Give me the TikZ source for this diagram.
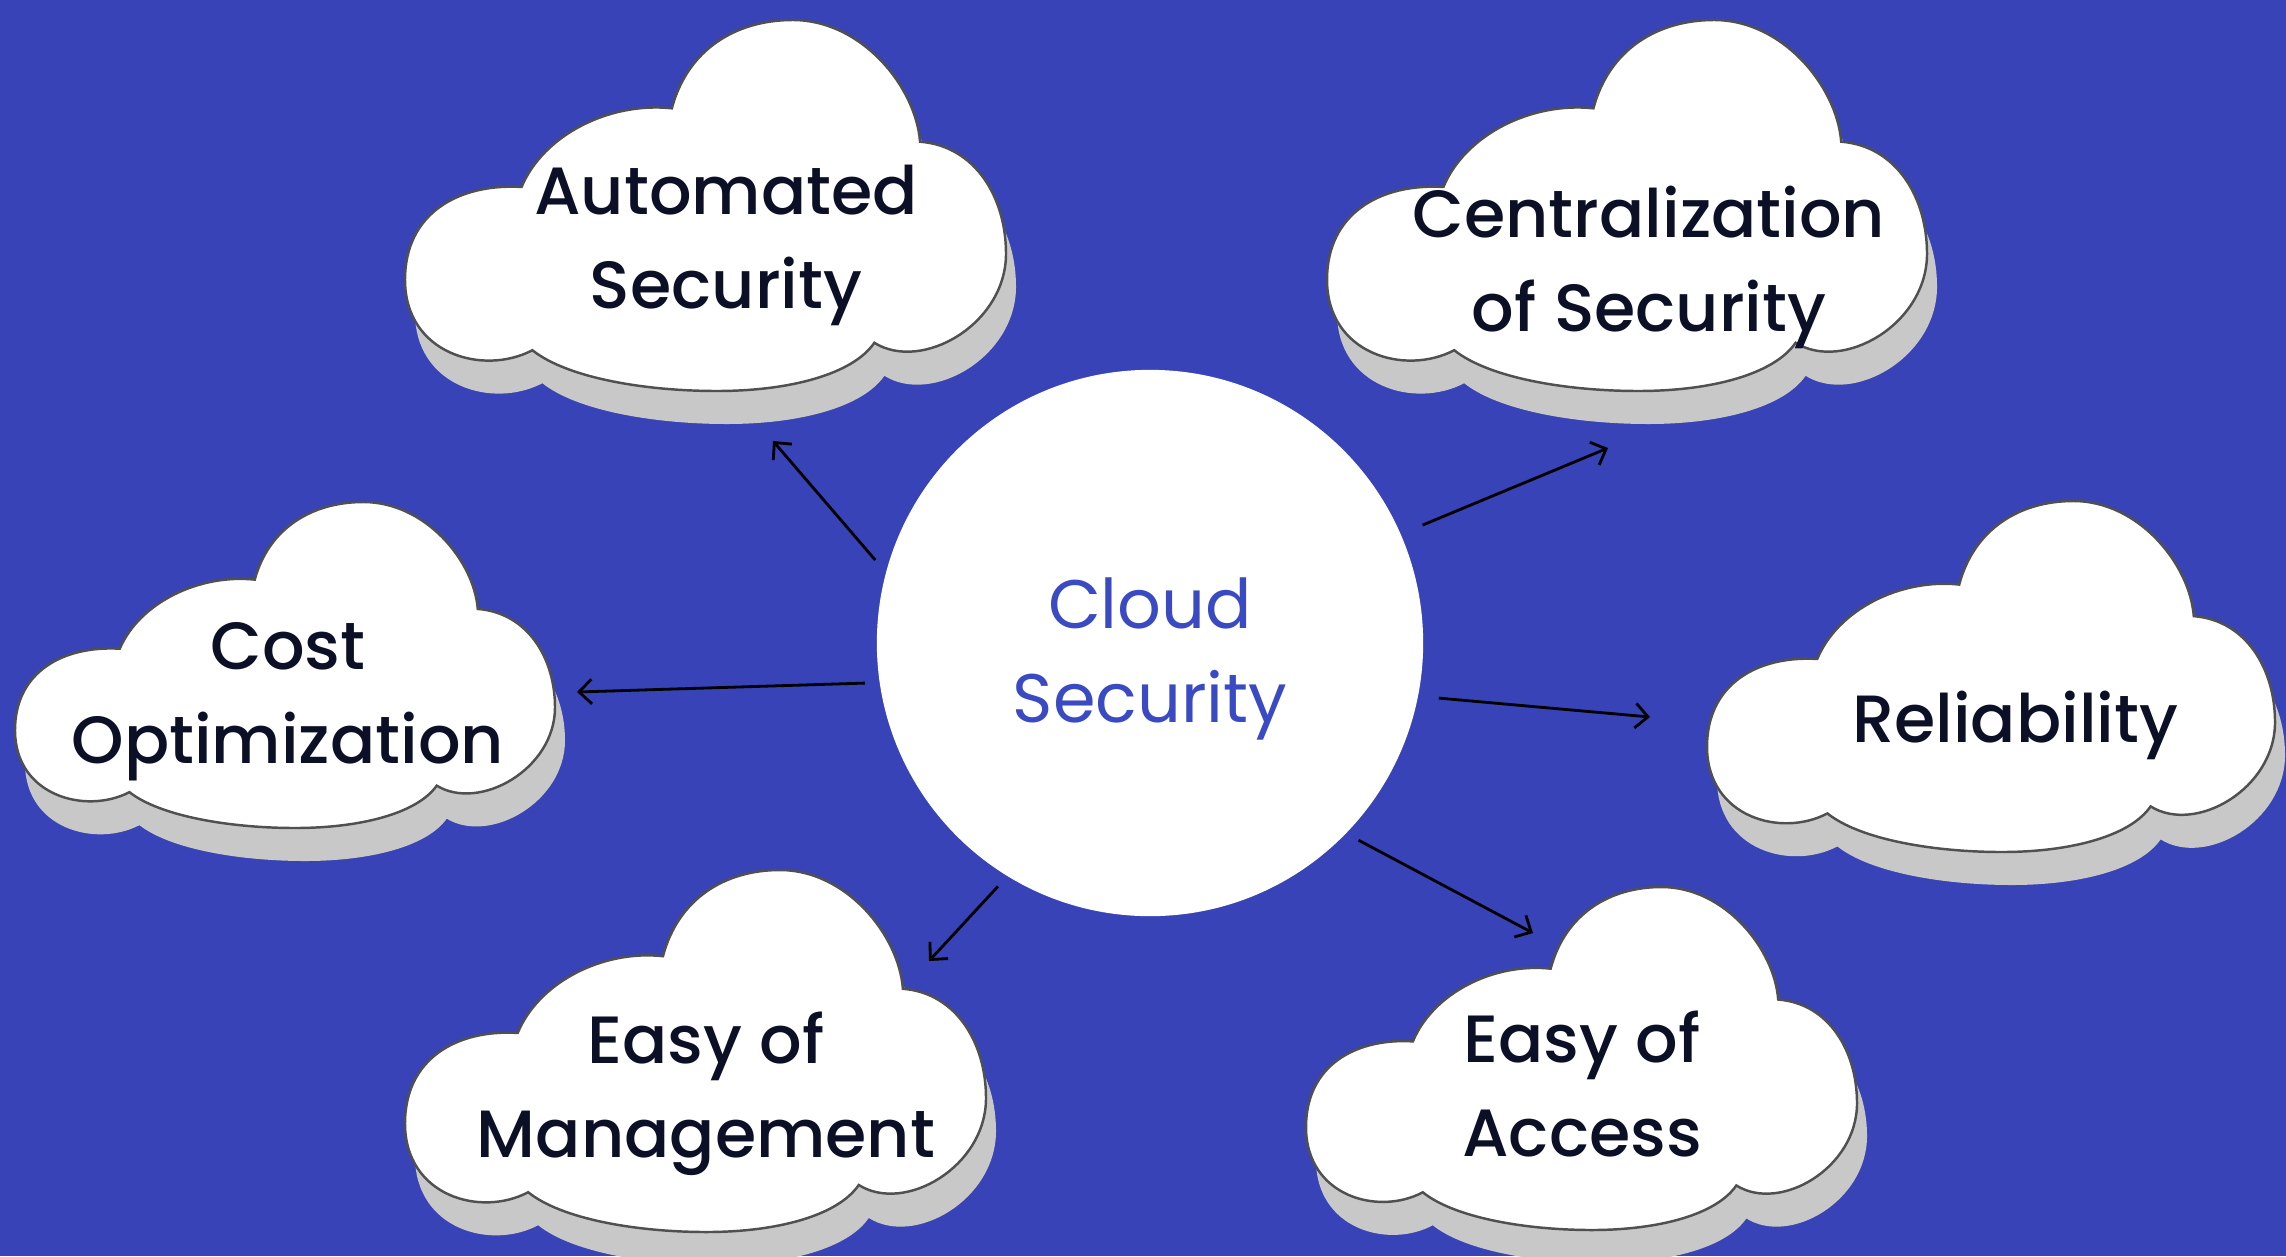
\documentclass[tikz,border=0pt]{standalone}
\usepackage{fontspec}
\setmainfont{Poppins}
\newfontfamily\labelface{Poppins Medium}
\usetikzlibrary{arrows.meta}

\definecolor{bgblue}{HTML}{3843B7}
\definecolor{coreblue}{HTML}{3A4AC2}
\definecolor{ink}{HTML}{0B1026}
\definecolor{shade}{HTML}{C8C8C8}
\definecolor{rim}{HTML}{505050}

% cloud outline in a unit box (0..1 x 0..1), bottom-left cusp first
\newcommand\cloudoutline{(0.212,0.110)
  .. controls (0.13,0.04) and (0.0,0.10) .. (0,0.30)
  .. controls (0,0.48) and (0.09,0.56) .. (0.194,0.550)
  .. controls (0.23,0.69) and (0.34,0.78) .. (0.444,0.762)
  .. controls (0.47,0.92) and (0.55,1.0) .. (0.645,1)
  .. controls (0.76,1.0) and (0.85,0.82) .. (0.857,0.672)
  .. controls (0.95,0.66) and (1.0,0.52) .. (1,0.37)
  .. controls (1.0,0.18) and (0.86,0.05) .. (0.781,0.130)
  .. controls (0.745,0.045) and (0.64,0) .. (0.519,0)
  .. controls (0.40,0.0) and (0.27,0.035) .. (0.212,0.110) -- cycle}

% #1 left, #2 bottom, #3 width, #4 height
\newcommand\cloudat[4]{%
  \fill[cloudshadow, shift={(#1+10,#2-33)}, xscale=#3, yscale=#4] \cloudoutline;
  \filldraw[cloudbody, shift={(#1,#2)}, xscale=#3, yscale=#4] \cloudoutline;
}

\tikzset{
  cloudbody/.style={fill=white, draw=rim, line width=0.7pt},
  cloudshadow/.style={fill=shade},
  lbl/.style={font=\labelface\fontsize{19pt}{26.7pt}\selectfont, text=ink,
    align=center, inner sep=0pt,
    execute at begin node=\strut, execute at end node=\strut},
  coretext/.style={font=\fontsize{19.5pt}{26.7pt}\selectfont, text=coreblue,
    align=center, inner sep=0pt,
    execute at begin node=\strut, execute at end node=\strut},
  link/.style={line width=0.8pt, draw=black,
    -{Straight Barb[length=3.6pt,width=7pt]}},
}

\begin{document}
\begin{tikzpicture}[x=0.01cm,y=0.01cm]
\fill[bgblue] (0,0) rectangle (2286,1256);
\useasboundingbox (0,0) rectangle (2286,1256);

% clouds
\cloudat{405}{865}{601}{371}
\cloudat{1327}{865}{600}{371}
\cloudat{15}{428}{540}{326}
\cloudat{1707}{404}{568}{351}
\cloudat{405}{24}{581}{362}
\cloudat{1306}{26}{551}{343}

% central circle
\node[circle, fill=white, minimum size=5.46cm, inner sep=0pt] (core) at (1150,613) {};
\node[coretext] (coretxt) at (1150,592) {Cloud\\Security};

% cloud labels
\node[lbl] (auto) at (726,1005) {Automated\\Security};
\node[lbl] (central) at (1649,983) {Centralization\\of Security};
\node[lbl] (cost) at (288,549) {Cost\\Optimization};
\node[lbl] (rel) at (2015,532) {Reliability};
\node[lbl] (mgmt) at (706,157) {Easy of\\Management};
\node[lbl] (access) at (1582,158) {Easy of\\Access};

% arrow tips
\coordinate (tipauto) at (773,815);
\coordinate (tipcentral) at (1608,808);
\coordinate (tipcost) at (577,564);
\coordinate (tiprel) at (1650,539);
\coordinate (tipmgmt) at (929,295);
\coordinate (tipaccess) at (1533,323);

% connectors
\draw[link] ([shift={(163.2:287)}]core.center) -- (tipauto);
\draw[link] ([shift={(23.4:297)}]core.center) -- (tipcentral);
\draw[link] ([shift={(188.0:288)}]core.center) -- (tipcost);
\draw[link] ([shift={(349.2:294)}]core.center) -- (tiprel);
\draw[link] ([shift={(238.0:287)}]core.center) -- (tipmgmt);
\draw[link] ([shift={(316.6:287)}]core.center) -- (tipaccess);
\end{tikzpicture}
\end{document}
